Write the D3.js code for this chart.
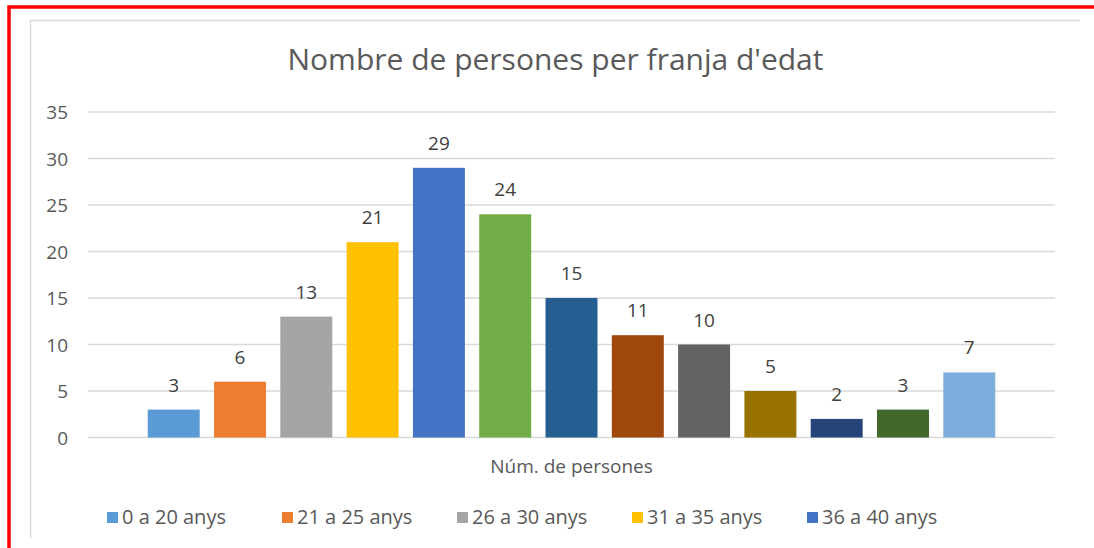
<!DOCTYPE html>
<html>
<head>
<meta charset="utf-8">
<script src="https://cdn.jsdelivr.net/npm/d3@7"></script>
<style>
    body { margin: 0; background: #fff; }
    svg { display: block; font-family: "Open Sans", Lato, sans-serif; }
    .grid line { stroke: #d9d9d9; stroke-width: 1.3; }
    .axis text { fill: #595959; font-size: 19px; font-family: "Open Sans", Lato, sans-serif; }
    .label { fill: #404040; font-size: 19px; }
</style>
</head>
<body>
<svg id="chart" width="1094" height="548"></svg>
<script>
const title = "Nombre de persones per franja d'edat";
const category = "Núm. de persones";
const seriesNames = ["0 a 20 anys", "21 a 25 anys", "26 a 30 anys", "31 a 35 anys", "36 a 40 anys",
    "41 a 45 anys", "46 a 50 anys", "51 a 55 anys", "56 a 60 anys", "61 a 65 anys",
    "66 a 70 anys", "71 a 75 anys", "més de 75 anys"];
const values = [3, 6, 13, 21, 29, 24, 15, 11, 10, 5, 2, 3, 7];
const colors = ["#5b9bd5", "#ed7d31", "#a5a5a5", "#ffc000", "#4472c4", "#70ad47", "#255e91",
    "#9e480e", "#636363", "#997300", "#264478", "#43682b", "#7cafdd"];
const yTicks = [0, 5, 10, 15, 20, 25, 30, 35];
// Excel only managed to fit the first five entries
const legendShown = 5;

const svg = d3.select("#chart");

// outer red frame (screenshot) and the light chart frame
svg.append("path")
    .attr("d", "M9,548 V7 H1094")
    .attr("fill", "none")
    .attr("stroke", "#ff0000")
    .attr("stroke-width", 3.5);
svg.append("path")
    .attr("d", "M30.5,538 V20.5 H1080")
    .attr("fill", "none")
    .attr("stroke", "#d9d9d9")
    .attr("stroke-width", 1.5);

const left = 88, right = 1055;
const y = d3.scaleLinear().domain([0, 35]).range([437.5, 112]);
const x0 = d3.scaleBand().domain([category]).range([left, right]).paddingOuter(0.061);
const x1 = d3.scaleBand().domain(seriesNames)
    .range([x0(category), x0(category) + x0.bandwidth()])
    .paddingInner(0.216).paddingOuter(0.108);

svg.append("text")
    .attr("x", 555.5)
    .attr("y", 70)
    .attr("text-anchor", "middle")
    .attr("fill", "#595959")
    .style("font-size", "30px")
    .text(title);

const grid = svg.append("g").attr("class", "grid");
grid.selectAll("line")
    .data(yTicks)
    .join("line")
    .attr("x1", left)
    .attr("x2", right)
    .attr("y1", d => y(d))
    .attr("y2", d => y(d));

const yAxis = svg.append("g")
    .attr("class", "axis")
    .attr("transform", "translate(68,0)")
    .call(d3.axisLeft(y).tickValues(yTicks).tickSize(0).tickPadding(0));
yAxis.select(".domain").remove();
yAxis.selectAll("text").attr("dy", "0.36em");

const xAxis = svg.append("g")
    .attr("class", "axis")
    .attr("transform", "translate(0," + y(0) + ")")
    .call(d3.axisBottom(x0).tickSize(0).tickPadding(22));
xAxis.select(".domain").remove();

svg.append("g")
    .selectAll("rect")
    .data(values)
    .join("rect")
    .attr("x", (d, i) => x1(seriesNames[i]))
    .attr("y", d => y(d))
    .attr("width", x1.bandwidth())
    .attr("height", d => y(0) - y(d))
    .attr("fill", (d, i) => colors[i]);

svg.append("g")
    .selectAll("text")
    .data(values)
    .join("text")
    .attr("class", "label")
    .attr("x", (d, i) => x1(seriesNames[i]) + x1.bandwidth() / 2)
    .attr("y", d => y(d) - 18)
    .attr("text-anchor", "middle")
    .text(d => d);

const legendX = d3.scalePoint().domain(seriesNames.slice(0, legendShown)).range([107, 807]);
const legend = svg.append("g")
    .selectAll("g")
    .data(seriesNames.slice(0, legendShown))
    .join("g")
    .attr("transform", d => "translate(" + legendX(d) + ",512)");
legend.append("rect")
    .attr("width", 11)
    .attr("height", 11)
    .attr("fill", (d, i) => colors[i]);
legend.append("text")
    .attr("x", 15)
    .attr("y", 11.5)
    .attr("fill", "#595959")
    .style("font-size", "20px")
    .text(d => d);
</script>
</body>
</html>
